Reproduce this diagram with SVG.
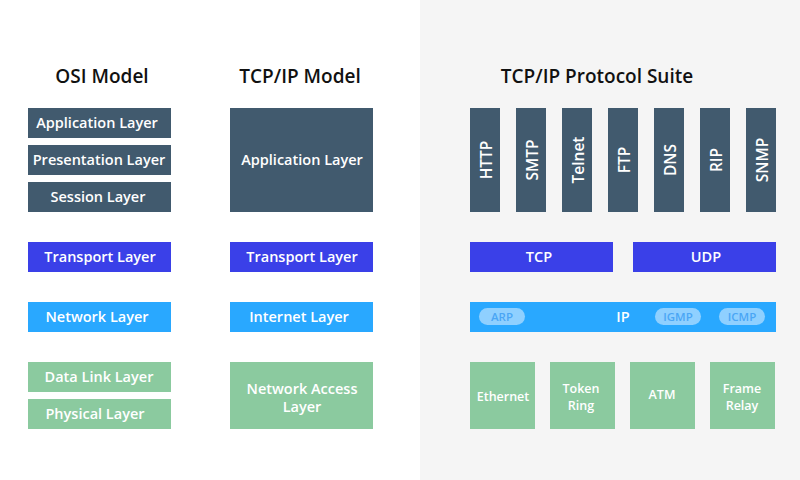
<svg xmlns="http://www.w3.org/2000/svg" width="800" height="480" viewBox="0 0 800 480">
<style>
text{font-family:"Open Sans","Noto Sans","Liberation Sans",sans-serif;fill:#fff;text-anchor:middle;font-weight:600}
.t{fill:#111;font-size:19px}
.l{font-size:14.5px}
.r{font-size:15.5px}
.s{font-size:12.5px}
.p{fill:#4aa6f5;font-size:11.5px;font-weight:600}
.d{fill:#415a6e}.b{fill:#3a40e8}.c{fill:#29a8ff}.g{fill:#8bca9f}.pill{fill:#8fd0ff}
</style>
<rect x="0" y="0" width="800" height="480" fill="#fff"/>
<rect x="420" y="0" width="380" height="480" fill="#f5f5f5"/>
<text class="t" x="102" y="83">OSI Model</text>
<text class="t" x="300" y="83">TCP/IP Model</text>
<text class="t" x="597" y="83">TCP/IP Protocol Suite</text>
<g id="osi">
<g id="osi-app"><rect class="d" x="28" y="108" width="143" height="30"/><text class="l" x="97" y="128">Application Layer</text></g>
<g id="osi-pres"><rect class="d" x="28" y="145" width="143" height="30"/><text class="l" x="99" y="165">Presentation Layer</text></g>
<g id="osi-sess"><rect class="d" x="28" y="182" width="143" height="30"/><text class="l" x="98" y="202">Session Layer</text></g>
<g id="osi-trans"><rect class="b" x="28" y="242" width="143" height="30"/><text class="l" x="100" y="262">Transport Layer</text></g>
<g id="osi-net"><rect class="c" x="28" y="302" width="143" height="30"/><text class="l" x="97" y="322">Network Layer</text></g>
<g id="osi-dl"><rect class="g" x="28" y="362" width="143" height="30"/><text class="l" x="99" y="382">Data Link Layer</text></g>
<g id="osi-phy"><rect class="g" x="28" y="399" width="143" height="30"/><text class="l" x="95" y="419">Physical Layer</text></g>
</g>
<g id="tcpip">
<g id="tcp-app"><rect class="d" x="230" y="108" width="143" height="104"/><text class="l" x="302" y="165">Application Layer</text></g>
<g id="tcp-trans"><rect class="b" x="230" y="242" width="143" height="30"/><text class="l" x="302" y="262">Transport Layer</text></g>
<g id="tcp-inet"><rect class="c" x="230" y="302" width="143" height="30"/><text class="l" x="299" y="322">Internet Layer</text></g>
<g id="tcp-na"><rect class="g" x="230" y="362" width="143" height="67"/><text class="l" x="302" y="394">Network Access</text><text class="l" x="302" y="412">Layer</text></g>
</g>
<g id="suite">
<g id="http"><rect class="d" x="470" y="108" width="30" height="104"/><text class="r" transform="translate(492,160) rotate(-90)">HTTP</text></g>
<g id="smtp"><rect class="d" x="516" y="108" width="30" height="104"/><text class="r" transform="translate(538,160) rotate(-90)">SMTP</text></g>
<g id="telnet"><rect class="d" x="562" y="108" width="30" height="104"/><text class="r" transform="translate(584,160) rotate(-90)">Telnet</text></g>
<g id="ftp"><rect class="d" x="608" y="108" width="30" height="104"/><text class="r" transform="translate(630,160) rotate(-90)">FTP</text></g>
<g id="dns"><rect class="d" x="654" y="108" width="30" height="104"/><text class="r" transform="translate(676,160) rotate(-90)">DNS</text></g>
<g id="rip"><rect class="d" x="700" y="108" width="30" height="104"/><text class="r" transform="translate(722,160) rotate(-90)">RIP</text></g>
<g id="snmp"><rect class="d" x="746" y="108" width="30" height="104"/><text class="r" transform="translate(768,160) rotate(-90)">SNMP</text></g>
<g id="tcp"><rect class="b" x="470" y="242" width="143" height="30"/><text class="l" x="539" y="262">TCP</text></g>
<g id="udp"><rect class="b" x="633" y="242" width="143" height="30"/><text class="l" x="706" y="262">UDP</text></g>
<g id="ip"><rect class="c" x="470" y="302" width="306" height="30"/><text class="l" x="623" y="322">IP</text>
<rect class="pill" x="479" y="308" width="46" height="17" rx="8.5"/><text class="p" x="502" y="320.5">ARP</text>
<rect class="pill" x="655" y="308" width="46" height="17" rx="8.5"/><text class="p" x="678" y="320.5">IGMP</text>
<rect class="pill" x="719" y="308" width="46" height="17" rx="8.5"/><text class="p" x="742" y="320.5">ICMP</text></g>
<g id="ethernet"><rect class="g" x="470" y="362" width="65" height="67"/><text class="s" x="503" y="401">Ethernet</text></g>
<g id="token"><rect class="g" x="550" y="362" width="65" height="67"/><text class="s" x="581" y="393">Token</text><text class="s" x="581" y="410">Ring</text></g>
<g id="atm"><rect class="g" x="630" y="362" width="65" height="67"/><text class="s" x="662" y="399">ATM</text></g>
<g id="frame"><rect class="g" x="710" y="362" width="65" height="67"/><text class="s" x="742" y="393">Frame</text><text class="s" x="742" y="410">Relay</text></g>
</g>
<g id="connectors"/>
</svg>
